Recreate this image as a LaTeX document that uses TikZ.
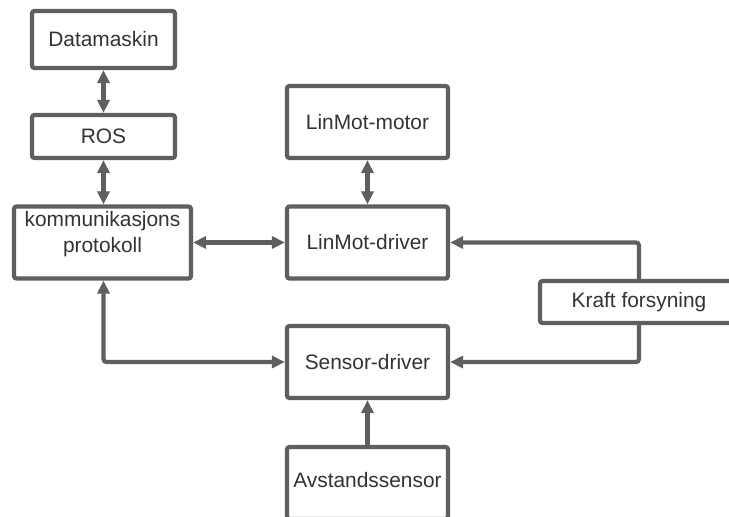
\documentclass[tikz,border=0pt]{standalone}
\usepackage{fontspec}
\setmainfont{Liberation Sans}
\usetikzlibrary{arrows.meta}
\definecolor{linec}{RGB}{95,95,95}
\definecolor{textc}{RGB}{51,51,51}
\tikzset{
  box/.style={draw=linec, line width=4.2pt, rounded corners=2.5pt, fill=white, inner sep=0pt, text=textc, font=\fontsize{20.9}{25.5}\selectfont, align=center},
  lbl/.style={inner sep=0pt, text=textc, font=\fontsize{20.9}{25.5}\selectfont, align=center},
  conn/.style={draw=linec, line width=4.2pt, rounded corners=3pt, -{Triangle[length=13pt,width=12pt]}},
  dconn/.style={conn, {Triangle[length=13pt,width=12pt]}-{Triangle[length=13pt,width=12pt]}}
}
\begin{document}
\begin{tikzpicture}[x=1pt,y=-1pt]
\useasboundingbox (0,0) rectangle (729,517);
\clip (0,0) rectangle (729,517);
\node[box, minimum width=143pt, minimum height=57pt] (data) at (103.5,39.5) {Datamaskin};
\node[box, minimum width=143pt, minimum height=43pt] (ros) at (103.5,136.5) {ROS};
\node[box, minimum width=177pt, minimum height=72pt] (komm) at (102.5,242.5) {};
\node[lbl] (kommt) at (102.5,234) {kommunikasjons\\protokoll};
\node[box, minimum width=161pt, minimum height=72pt] (motor) at (367.5,122) {LinMot-motor};
\node[box, minimum width=161pt, minimum height=72pt] (ldrv) at (367.5,242.5) {LinMot-driver};
\node[box, minimum width=161pt, minimum height=72pt] (sdrv) at (367.5,362) {Sensor-driver};
\node[box, minimum width=161pt, minimum height=72pt] (avst) at (367.5,483) {};
\node[lbl] (avstt) at (367.5,480) {Avstandssensor};
\node[box, minimum width=198pt, minimum height=42pt] (kraft) at (639,302) {Kraft forsyning};

\draw[dconn] (data.south) -- (ros.north);
\draw[dconn] (ros.south) -- (ros.south |- komm.north);
\draw[dconn] (komm.east |- ldrv.west) -- (ldrv.west);
\draw[dconn] (motor.south) -- (ldrv.north);
\draw[conn] (kraft.north) |- (ldrv.east);
\draw[conn] (kraft.south) |- (sdrv.east);
\draw[dconn] (komm.south -| data.south) |- (sdrv.west);
\draw[conn] (avst.north) -- (sdrv.south);
\end{tikzpicture}
\end{document}
